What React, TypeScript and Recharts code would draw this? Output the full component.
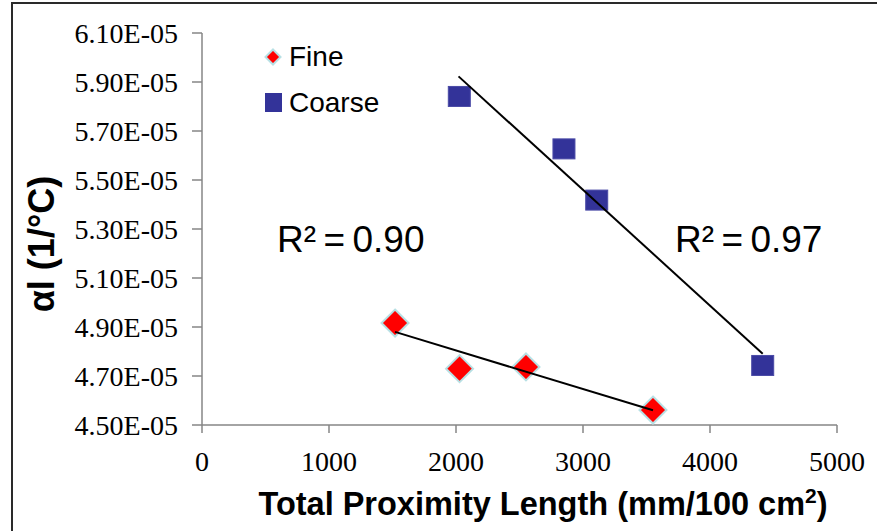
import React from 'react';
import { ScatterChart, Scatter, XAxis, YAxis, ReferenceDot, Legend, Customized } from 'recharts';

const seriesNames = ['Fine', 'Coarse'];
const fineX = [1520, 2028, 2551, 3551];
const fineY = [4.916e-5, 4.73e-5, 4.737e-5, 4.561e-5];
const coarseX = [2026, 2850, 3108, 4415];
const coarseY = [5.841e-5, 5.627e-5, 5.418e-5, 4.743e-5];
const fineTrendX = [1520, 3551];
const fineTrendY = [4.88e-5, 4.56e-5];
const coarseTrendX = [2020, 4415];
const coarseTrendY = [5.923e-5, 4.791e-5];
const xTicks = [0, 1000, 2000, 3000, 4000, 5000];
const yTicks = [4.5e-5, 4.7e-5, 4.9e-5, 5.1e-5, 5.3e-5, 5.5e-5, 5.7e-5, 5.9e-5, 6.1e-5];
const r2Labels = ['R\u00B2\u2009=\u20090.90', 'R\u00B2\u2009=\u20090.97'];
const r2X = [591, 3724];
const r2Y = [5.207e-5, 5.207e-5];
const xTitle = 'Total Proximity Length (mm/100 cm';
const yTitle = '\u03B1l (1/\u00B0C)';

const zip = (xs: number[], ys: number[]) => xs.map((x, i) => ({ x, y: ys[i] }));
const fineData = zip(fineX, fineY);
const coarseData = zip(coarseX, coarseY);
const fineTrend = zip(fineTrendX, fineTrendY);
const coarseTrend = zip(coarseTrendX, coarseTrendY);

const SANS = '"Liberation Sans", Arial, sans-serif';
const SERIF = '"Liberation Serif", "Times New Roman", serif';
const RED = '#ff0000';
const RED_EDGE = '#b7e0e4';
const BLUE = '#333399';

const fmtSci = (v: number) => {
  const [m, e] = v.toExponential(2).split('e');
  const n = parseInt(e, 10);
  return `${m}E${n < 0 ? '-' : '+'}${String(Math.abs(n)).padStart(2, '0')}`;
};

const Diamond = (props: any) => {
  const { cx, cy } = props;
  const r = 13.5;
  return (
    <path
      d={`M${cx},${cy - r} L${cx + r},${cy} L${cx},${cy + r} L${cx - r},${cy} Z`}
      fill={RED}
      stroke={RED_EDGE}
      strokeWidth={2}
    />
  );
};

const Square = (props: any) => {
  const { cx, cy } = props;
  return <rect x={cx - 11} y={cy - 10} width={22} height={20} fill={BLUE} stroke="#4a4aa6" strokeWidth={1} />;
};

const NoShape = () => <g />;

const LegendContent = () => (
  <div style={{ fontFamily: SANS, fontSize: 28, color: '#000' }}>
    <div style={{ display: 'flex', alignItems: 'center', height: 46 }}>
      <svg width={24} height={24} style={{ display: 'block' }}>
        <path d="M12,4.5 L19.5,12 L12,19.5 L4.5,12 Z" fill={RED} stroke={RED_EDGE} strokeWidth={2} />
      </svg>
      <span style={{ marginLeft: 4 }}>{seriesNames[0]}</span>
    </div>
    <div style={{ display: 'flex', alignItems: 'center', height: 46 }}>
      <svg width={24} height={24} style={{ display: 'block' }}>
        <rect x={4} y={2} width={17} height={19} fill={BLUE} />
      </svg>
      <span style={{ marginLeft: 4 }}>{seriesNames[1]}</span>
    </div>
  </div>
);

const Titles = () => (
  <g>
    <text x={543} y={515} textAnchor="middle" fontFamily={SANS} fontWeight="bold" fontSize={32.5} fill="#000">
      {xTitle}
      <tspan dy={-12} fontSize={21}>2</tspan>
      <tspan dy={12}>)</tspan>
    </text>
    <text
      x={54}
      y={244}
      transform="rotate(-90, 54, 244)"
      textAnchor="middle"
      fontFamily={SANS}
      fontWeight="bold"
      fontSize={36}
      fill="#000"
    >
      {yTitle}
    </text>
  </g>
);

const r2Shape = (label: string) => (p: any) => (
  <text x={p.cx} y={p.cy} fontFamily={SANS} fontSize={37} fill="#000">
    {label}
  </text>
);

export default function App() {
  return (
    <div style={{ position: 'relative', width: 877, height: 531, overflow: 'hidden', background: '#fff' }}>
      <style>{`body{margin:0}`}</style>
      <div
        style={{
          position: 'absolute',
          left: 11,
          top: 2,
          width: 950,
          height: 650,
          border: '2px solid #2a2a2a',
          boxSizing: 'border-box',
        }}
      />
      <div style={{ position: 'absolute', left: 0, top: 0 }}>
        <ScatterChart width={877} height={531} margin={{ top: 33, right: 40, left: 0, bottom: 0 }}>
          <XAxis
            type="number"
            dataKey="x"
            domain={[0, 5000]}
            ticks={xTicks}
            interval={0}
            height={106}
            tickSize={8}
            tickMargin={18}
            axisLine={{ stroke: '#868686', strokeWidth: 1.5 }}
            tickLine={{ stroke: '#868686', strokeWidth: 1.5 }}
            tick={{ fill: '#000', fontFamily: SERIF, fontSize: 28 }}
          />
          <YAxis
            type="number"
            dataKey="y"
            domain={[4.5e-5, 6.1e-5]}
            ticks={yTicks}
            interval={0}
            width={202}
            tickSize={10}
            tickMargin={14}
            tickFormatter={fmtSci}
            axisLine={{ stroke: '#868686', strokeWidth: 1.5 }}
            tickLine={{ stroke: '#868686', strokeWidth: 1.5 }}
            tick={{ fill: '#000', fontFamily: SERIF, fontSize: 28 }}
          />
          <Legend
            layout="vertical"
            align="center"
            verticalAlign="middle"
            content={<LegendContent />}
            wrapperStyle={{ top: 34, left: 261, width: 'auto', height: 'auto' }}
          />
          <Scatter name={seriesNames[0]} data={fineData} shape={<Diamond />} isAnimationActive={false} />
          <Scatter name={seriesNames[1]} data={coarseData} shape={<Square />} isAnimationActive={false} />
          <Scatter
            name="fineTrend"
            data={fineTrend}
            line={{ stroke: '#000', strokeWidth: 2 }}
            shape={<NoShape />}
            legendType="none"
            isAnimationActive={false}
          />
          <Scatter
            name="coarseTrend"
            data={coarseTrend}
            line={{ stroke: '#000', strokeWidth: 2 }}
            shape={<NoShape />}
            legendType="none"
            isAnimationActive={false}
          />
          <ReferenceDot x={r2X[0]} y={r2Y[0]} r={0} shape={r2Shape(r2Labels[0])} />
          <ReferenceDot x={r2X[1]} y={r2Y[1]} r={0} shape={r2Shape(r2Labels[1])} />
          <Customized component={<Titles />} />
        </ScatterChart>
      </div>
    </div>
  );
}
